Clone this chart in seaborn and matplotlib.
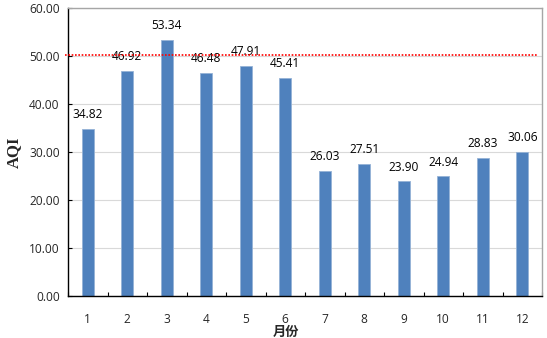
import matplotlib
matplotlib.use("Agg")
import matplotlib.pyplot as plt
from matplotlib.ticker import FixedLocator
import seaborn as sns
import pandas as pd

# 月份 / AQI
months = ["1", "2", "3", "4", "5", "6", "7", "8", "9", "10", "11", "12"]
aqi = [34.82, 46.92, 53.34, 46.48, 47.91, 45.41, 26.03, 27.51, 23.90, 24.94, 28.83, 30.06]
limit = 50.3

df = pd.DataFrame({"month": months, "aqi": aqi})

sns.set_theme(style="white")
plt.rcParams["font.family"] = ["Open Sans", "Noto Sans CJK SC", "DejaVu Sans"]

fig = plt.figure(figsize=(5.47, 3.38), dpi=100)
ax = fig.add_axes([68 / 547, 1 - 296 / 338, (542 - 68) / 547, (296 - 8) / 338])

ax.yaxis.grid(True, color="#d9d9d9", linewidth=0.8)
ax.set_axisbelow(True)

sns.barplot(data=df, x="month", y="aqi", color="#4f81bd", width=0.3,
            saturation=1, edgecolor="#95b3d7", linewidth=0.6, ax=ax, zorder=2)

# 数值标签
for i, v in enumerate(aqi):
    ax.text(i, v + 1.6, f"{v:.2f}", ha="center", va="bottom", fontsize=8.6, color="black")

ax.axhline(limit, color="red", linestyle=(0, (1, 1)), linewidth=1.2, zorder=3,
           xmin=-0.006, xmax=0.99, clip_on=False)

ax.set_xlim(-0.5, 11.5)
ax.set_ylim(0, 60)
ax.set_yticks(range(0, 61, 10))
ax.set_yticklabels([f"{t:.2f}" for t in range(0, 61, 10)], fontsize=8.6)
ax.tick_params(axis="x", which="major", length=0, pad=12, labelsize=8.6)
ax.xaxis.set_minor_locator(FixedLocator([k - 0.5 for k in range(13)]))
ax.tick_params(axis="x", which="minor", direction="in", length=3, width=0.8, color="black", bottom=True)
ax.tick_params(axis="y", which="major", direction="in", length=3, width=0.8, color="black", left=True, pad=6)

ax.set_xlabel("月份", fontsize=9.5, fontweight="bold", family=["Noto Sans CJK SC", "DejaVu Sans"])
ax.xaxis.set_label_coords((286 - 68) / 474, -0.1)
ax.set_ylabel("AQI", fontsize=12, fontweight="bold", family="Liberation Serif")
ax.yaxis.set_label_coords(-0.097, 0.5)

for side in ["left", "bottom"]:
    ax.spines[side].set_color("black")
    ax.spines[side].set_linewidth(1.0)
for side in ["top", "right"]:
    ax.spines[side].set_color("#a6a6a6")
    ax.spines[side].set_linewidth(1.0)

fig.savefig("out.png", dpi=100)
